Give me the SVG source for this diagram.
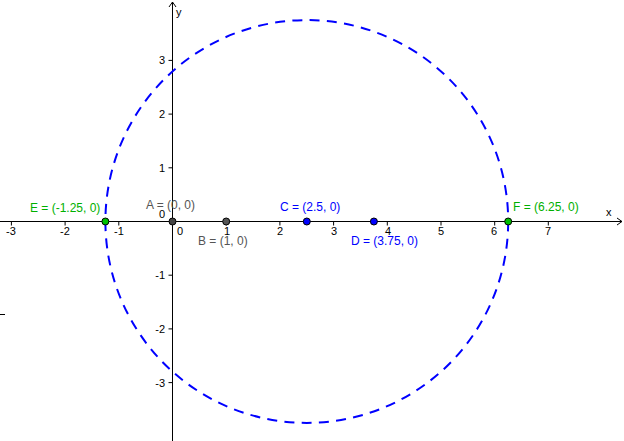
<svg xmlns="http://www.w3.org/2000/svg" width="624" height="441" viewBox="0 0 624 441">
<style>
text{font-family:"Liberation Sans",Arial,sans-serif;font-size:12px}
.tick{font-size:11px;fill:#000}
.ax{stroke:#000;stroke-width:1;fill:none}
.pt{stroke:#000;stroke-width:1}
.gray{fill:#555}
.blue{fill:#0000ff}
.green{fill:#00b000}
</style>
<rect width="624" height="441" fill="#fff"/>
<g id="axes">
<line class="ax" x1="0" y1="221.5" x2="622" y2="221.5"/>
<polyline class="ax" points="617,218 622,221.5 617,225"/>
<line class="ax" x1="172.5" y1="2" x2="172.5" y2="441"/>
<polyline class="ax" points="169,7 172.5,2 176,7"/>
<path class="ax" d="M11.4,221.5v4M65.1,221.5v4M118.8,221.5v4M226.2,221.5v4M279.9,221.5v4M333.6,221.5v4M387.3,221.5v4M441,221.5v4M494.7,221.5v4M548.3,221.5v4"/>
<path class="ax" d="M172.5,60.4h-4M172.5,114.1h-4M172.5,167.8h-4M172.5,275.2h-4M172.5,328.9h-4M172.5,382.6h-4"/>
<line class="ax" x1="0" y1="314.5" x2="5" y2="314.5"/>
<text class="tick" x="11" y="235" text-anchor="middle">-3</text>
<text class="tick" x="65" y="235" text-anchor="middle">-2</text>
<text class="tick" x="119" y="235" text-anchor="middle">-1</text>
<text class="tick" x="180" y="235" text-anchor="middle">0</text>
<text class="tick" x="227" y="235" text-anchor="middle">1</text>
<text class="tick" x="280" y="235" text-anchor="middle">2</text>
<text class="tick" x="334" y="235" text-anchor="middle">3</text>
<text class="tick" x="388" y="235" text-anchor="middle">4</text>
<text class="tick" x="441" y="235" text-anchor="middle">5</text>
<text class="tick" x="494" y="235" text-anchor="middle">6</text>
<text class="tick" x="548" y="235" text-anchor="middle">7</text>
<text class="tick" x="165" y="64" text-anchor="end">3</text>
<text class="tick" x="165" y="118" text-anchor="end">2</text>
<text class="tick" x="165" y="172" text-anchor="end">1</text>
<text class="tick" x="165" y="218" text-anchor="end">0</text>
<text class="tick" x="165" y="279" text-anchor="end">-1</text>
<text class="tick" x="165" y="333" text-anchor="end">-2</text>
<text class="tick" x="165" y="387" text-anchor="end">-3</text>
<text class="tick" x="606" y="216">x</text>
<text class="tick" x="176" y="16">y</text>
</g>
<g id="circle">
<circle cx="306.8" cy="221.5" r="201.4" fill="none" stroke="#0000ff" stroke-width="2" stroke-dasharray="10 7.3"/>
</g>
<g id="A"><circle class="pt" cx="172.5" cy="221.5" r="3.5" fill="#444"/><text class="gray" x="146" y="209">A = (0, 0)</text></g>
<g id="B"><circle class="pt" cx="226.2" cy="221.5" r="3.5" fill="#555"/><text class="gray" x="198" y="245">B = (1, 0)</text></g>
<g id="C"><circle class="pt" cx="306.8" cy="221.5" r="3.5" fill="#0000ff"/><text class="blue" x="280" y="211">C = (2.5, 0)</text></g>
<g id="D"><circle class="pt" cx="373.9" cy="221.5" r="3.5" fill="#0000ff"/><text class="blue" x="351" y="245">D = (3.75, 0)</text></g>
<g id="E"><circle class="pt" cx="105.4" cy="221.5" r="3.5" fill="#00c000"/><text class="green" x="30" y="212">E = (-1.25, 0)</text></g>
<g id="F"><circle class="pt" cx="508.2" cy="221.5" r="3.5" fill="#00c000"/><text class="green" x="513" y="211">F = (6.25, 0)</text></g>
</svg>
